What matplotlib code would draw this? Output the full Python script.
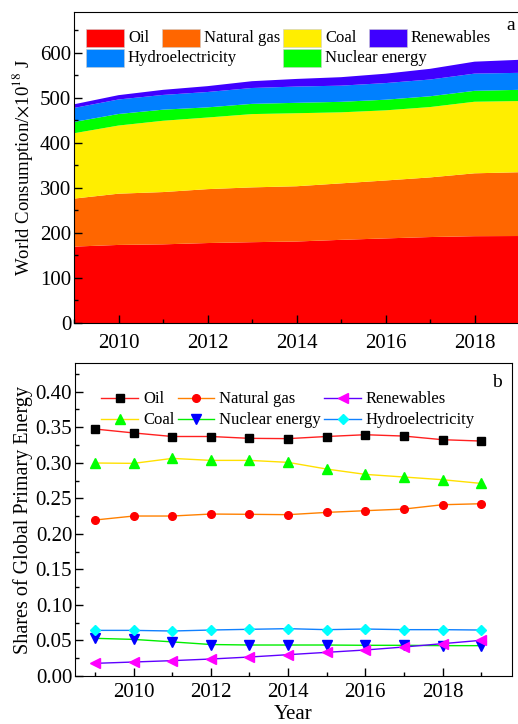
import numpy as np
import matplotlib
matplotlib.use("Agg")
import matplotlib.pyplot as plt
from matplotlib.patches import Rectangle
from matplotlib.ticker import MultipleLocator, FormatStrFormatter

plt.rcParams['font.family'] = ['Liberation Serif', 'DejaVu Serif']
plt.rcParams['mathtext.fontset'] = 'stix'

years = np.arange(2009, 2020)

# world consumption, EJ (panel a)
oil = [169.5, 173.2, 174.5, 177.4, 179.3, 180.8, 184.5, 187.7, 190.7, 192.6, 193.0]
gas = [106.5, 113.7, 116.0, 119.6, 121.6, 122.6, 125.3, 128.5, 132.3, 139.5, 141.5]
coal = [145.0, 151.2, 158.2, 158.9, 162.6, 162.0, 157.6, 155.6, 156.1, 158.8, 157.9]
nuclear = [25.0, 25.6, 24.6, 22.5, 22.7, 23.1, 23.3, 23.6, 23.9, 24.2, 24.9]
hydro = [31.1, 32.2, 32.7, 34.1, 35.2, 36.1, 35.9, 36.9, 37.2, 38.2, 37.7]
renew = [8.1, 9.6, 11.3, 13.0, 15.1, 16.9, 18.8, 20.8, 23.7, 26.5, 28.9]

# shares of global primary energy (panel b)
oil_sh = [0.3475, 0.342, 0.337, 0.337, 0.3344, 0.334, 0.337, 0.3395, 0.3376, 0.3325, 0.3306]
coal_sh = [0.2997, 0.2992, 0.3062, 0.3034, 0.3034, 0.3006, 0.2912, 0.2837, 0.280, 0.2762, 0.271]
gas_sh = [0.2195, 0.2251, 0.2251, 0.2279, 0.2275, 0.227, 0.2302, 0.2326, 0.2349, 0.241, 0.2424]
hydro_sh = [0.0642, 0.0642, 0.0633, 0.0647, 0.0657, 0.0666, 0.0652, 0.0661, 0.0652, 0.0652, 0.0647]
nuc_sh = [0.053, 0.0515, 0.048, 0.0443, 0.0436, 0.0436, 0.0436, 0.0432, 0.0432, 0.0427, 0.0427]
renew_sh = [0.0178, 0.0197, 0.0216, 0.0239, 0.0267, 0.030, 0.0333, 0.0366, 0.0408, 0.0455, 0.0502]

c_oil = '#FF0000'
c_gas = '#FF6600'
c_coal = '#FFEE00'
c_nuc = '#00FF00'
c_hydro = '#0080FF'
c_ren = '#3F00FF'

fig = plt.figure(figsize=(5.18, 7.24), dpi=100)

# ---------- panel a ----------
ax1 = fig.add_axes([74/518, 1-323/724, 445/518, 311/724])
ax1.stackplot(years, oil, gas, coal, nuclear, hydro, renew,
              colors=[c_oil, c_gas, c_coal, c_nuc, c_hydro, c_ren], linewidth=0)
ax1.set_xlim(2009, 2019)
ax1.set_ylim(0, 690)
ax1.xaxis.set_major_locator(MultipleLocator(2))
ax1.xaxis.set_minor_locator(MultipleLocator(1))
ax1.yaxis.set_major_locator(MultipleLocator(100))
ax1.yaxis.set_minor_locator(MultipleLocator(50))
ax1.tick_params(which='both', direction='in', labelsize=15, width=1)
ax1.tick_params(which='major', length=6)
ax1.tick_params(which='minor', length=3)
ax1.tick_params(axis='x', pad=8)
ax1.tick_params(axis='y', pad=2)
ax1.set_ylabel(r'World Consumption/$\times$10$^{18}$ J', fontsize=13.5)
ax1.yaxis.set_label_coords(-0.087, 0.5)
ax1.text(0.982, 0.955, 'a', transform=ax1.transAxes, fontsize=14, ha='center', va='center')

# hand-laid legend (patch + text), positions in pixels of the reference
leg_items = [('Oil', c_oil, 86, 37.5), ('Natural gas', c_gas, 162, 37.5),
             ('Coal', c_coal, 283, 37.5), ('Renewables', c_ren, 369, 37.5),
             ('Hydroelectricity', c_hydro, 86, 58), ('Nuclear energy', c_nuc, 283, 58)]
for name, col, px, py in leg_items:
    x0 = (px - 74) / 445
    y0 = 1 - (py - 12 + 9) / 311
    ax1.add_patch(Rectangle((x0, y0), 38/445, 18/311, transform=ax1.transAxes,
                            facecolor=col, edgecolor='#cccccc', lw=0.4, clip_on=False))
    ax1.text(x0 + 42/445, y0 + 9/311, name, transform=ax1.transAxes,
             fontsize=12, va='center', ha='left')

# ---------- panel b ----------
ax2 = fig.add_axes([75/518, 1-676/724, 437/518, 312.7/724])
ms = 5.5
ax2.plot(years, oil_sh, color='#FF2020', lw=1, marker='s', mfc='black', mec='black', ms=ms, label='Oil')
ax2.plot(years, coal_sh, color='#FFE000', lw=1, marker='^', mfc='#00FF00', mec='#00FF00', ms=ms+1, label='Coal')
ax2.plot(years, gas_sh, color='#FF8000', lw=1, marker='o', mfc='#FF0000', mec='#FF0000', ms=ms, label='Natural gas')
ax2.plot(years, nuc_sh, color='#00EE00', lw=1, marker='v', mfc='#0000FF', mec='#0000FF', ms=ms+1, label='Nuclear energy')
ax2.plot(years, renew_sh, color='#6000FF', lw=1, marker='<', mfc='#FF00FF', mec='#FF00FF', ms=ms+1, label='Renewables')
ax2.plot(years, hydro_sh, color='#1080FF', lw=1, marker='D', mfc='#00FFFF', mec='#00FFFF', ms=ms-0.5, label='Hydroelectricity')
ax2.set_xlim(2008.48, 2019.8)
ax2.set_ylim(0, 0.44)
ax2.xaxis.set_major_locator(MultipleLocator(2))
ax2.xaxis.set_minor_locator(MultipleLocator(1))
ax2.yaxis.set_major_locator(MultipleLocator(0.05))
ax2.yaxis.set_minor_locator(MultipleLocator(0.025))
ax2.yaxis.set_major_formatter(FormatStrFormatter('%.2f'))
ax2.tick_params(which='both', direction='in', labelsize=15, width=1)
ax2.tick_params(which='major', length=6)
ax2.tick_params(which='minor', length=3)
ax2.tick_params(axis='x', pad=5)
ax2.tick_params(axis='y', pad=2)
ax2.set_ylabel('Shares of Global Primary Energy', fontsize=14.5, labelpad=2)
ax2.set_xlabel('Year', fontsize=15, labelpad=2)
ax2.text(0.965, 0.94, 'b', transform=ax2.transAxes, fontsize=14, ha='center', va='center')
ax2.legend(ncol=3, loc='upper left', bbox_to_anchor=(0.06, 0.91), frameon=False,
           fontsize=12, handlelength=2.2, handletextpad=0.3, columnspacing=0.2,
           labelspacing=0.3, borderpad=0, borderaxespad=0)

fig.savefig('out.png', dpi=100)
